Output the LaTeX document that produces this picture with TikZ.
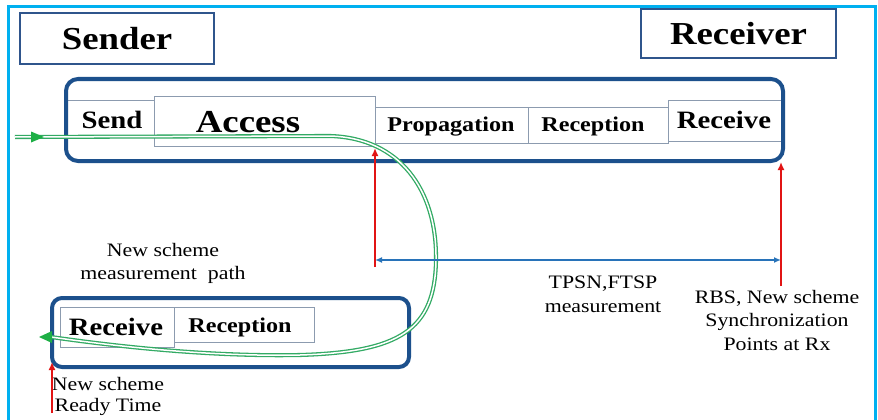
\documentclass[tikz,border=0pt]{standalone}
\usepackage{fontspec}
\setmainfont[FakeStretch=1.15]{Liberation Serif}
\usetikzlibrary{arrows.meta}
\definecolor{frameblue}{RGB}{0,176,240}
\definecolor{boxblue}{RGB}{28,80,140}
\definecolor{titleblue}{RGB}{47,85,140}
\definecolor{cellgray}{RGB}{140,155,175}
\definecolor{pathgreen}{RGB}{50,170,100}
\definecolor{tipgreen}{RGB}{30,175,70}
\definecolor{arrowred}{RGB}{225,20,20}
\definecolor{arrowblue}{RGB}{40,115,185}
\tikzset{
  titlebox/.style={draw=titleblue, line width=1.8pt, fill=white, inner sep=0pt,
    font=\fontsize{32}{38}\selectfont\bfseries},
  bigbox/.style={draw=boxblue, line width=4pt, rounded corners=12pt, inner sep=0pt},
  cellbox/.style={draw=cellgray, line width=0.8pt, fill=white, inner sep=0pt},
  lblbig/.style={inner sep=0pt, anchor=base, font=\fontsize{32}{38}\selectfont\bfseries},
  lblmid/.style={inner sep=0pt, anchor=base, font=\fontsize{25}{30}\selectfont\bfseries},
  lblsmall/.style={inner sep=0pt, anchor=base, font=\fontsize{21}{25}\selectfont\bfseries},
  note/.style={inner sep=0pt, anchor=north, align=center, font=\fontsize{19}{23.5}\selectfont},
  redarrow/.style={draw=arrowred, line width=2.5pt, -{Latex[length=8pt,width=7pt]}},
  bluearrow/.style={draw=arrowblue, line width=1.8pt, {Latex[length=7pt,width=6pt]}-{Latex[length=7pt,width=6pt]}},
  greenpath/.style={draw=pathgreen, line width=1.3pt, double=white, double distance=1.5pt},
  greentip/.style={fill=tipgreen, draw=none}
}
\begin{document}
\begin{tikzpicture}[x=1pt,y=-1pt]
\useasboundingbox (0,0) rectangle (878,420);
\fill[white] (0,0) rectangle (878,420);
% outer frame
\draw[frameblue, line width=3pt] (8,420) -- (8,7) -- (875,7) -- (875,420);

% titles
\node[titlebox, minimum width=194pt, minimum height=51pt] (sender) at (117,38.5) {Sender};
\node[titlebox, minimum width=195pt, minimum height=49pt] (receiver) at (738.5,33.5) {Receiver};

% top row cells
\draw[draw=cellgray, line width=0.8pt] (66,100) -- (154,100);
\node[cellbox, minimum width=221pt, minimum height=50pt] (access) at (264.5,121) {};
\node[cellbox, minimum width=153pt, minimum height=36pt] (prop) at (451.5,125) {};
\node[cellbox, minimum width=140pt, minimum height=36pt] (recp) at (598,125) {};
\node[cellbox, minimum width=115pt, minimum height=41pt] (recv) at (725.5,120.5) {};
\node[lblmid] (sendtxt) at (112,128) {Send};
\node[lblbig] (accesstxt) at (248,132) {Access};
\node[lblsmall] (proptxt) at (451,131) {Propagation};
\node[lblsmall] (recptxt) at (593,131) {Reception};
\node[lblmid] (recvtxt) at (724,128) {Receive};
\node[bigbox, minimum width=717pt, minimum height=82pt] (mainbox) at (424.5,120) {};

% bottom row cells
\node[cellbox, minimum width=114pt, minimum height=40pt] (brecv) at (117,327) {};
\node[cellbox, minimum width=140pt, minimum height=35pt] (brecp) at (244,324.5) {};
\node[lblmid] (brecvtxt) at (116,335) {Receive};
\node[lblsmall] (brecptxt) at (240,332) {Reception};
\node[bigbox, rounded corners=10pt, minimum width=357pt, minimum height=69pt] (botbox) at (230.5,332.5) {};

% notes
\node[note] (n1) at (163,243) {New scheme\\measurement\ \ path};
\node[note] (n2) at (603,276) {TPSN,FTSP\\measurement};
\node[note] (n3) at (777,290) {RBS, New scheme\\Synchronization\\Points at Rx};
\node[note, font=\fontsize{19}{21}\selectfont] (n4) at (108,377) {New scheme\\ Ready Time};

% green measurement path
\coordinate (gstart) at (15,137);
\coordinate (gend) at (51,337);
\draw[greenpath] (gstart) -- (330,136) .. controls (400,138) and (437,190) .. (436,260)
  .. controls (435,330) and (400,352) .. (300,355)
  .. controls (200,357) and (100,344) .. (gend);
\fill[greentip] (31,131.5) -- (44,137) -- (31,142.5) -- cycle;
\fill[greentip] (52,331) -- (39,337) -- (52,343) -- cycle;

% measurement arrows
\coordinate (r1bot) at (375,267);
\coordinate (r1top) at (375,148);
\coordinate (r2bot) at (781,286);
\coordinate (r2top) at (781,162);
\coordinate (r3bot) at (52,413);
\coordinate (r3top) at (52,362);
\coordinate (bl) at (375,260);
\coordinate (br) at (781,260);
\draw[bluearrow] (bl) -- (br);
\draw[redarrow] (r1bot) -- (r1top);
\draw[redarrow] (r2bot) -- (r2top);
\draw[redarrow] (r3bot) -- (r3top);
\end{tikzpicture}
\end{document}
